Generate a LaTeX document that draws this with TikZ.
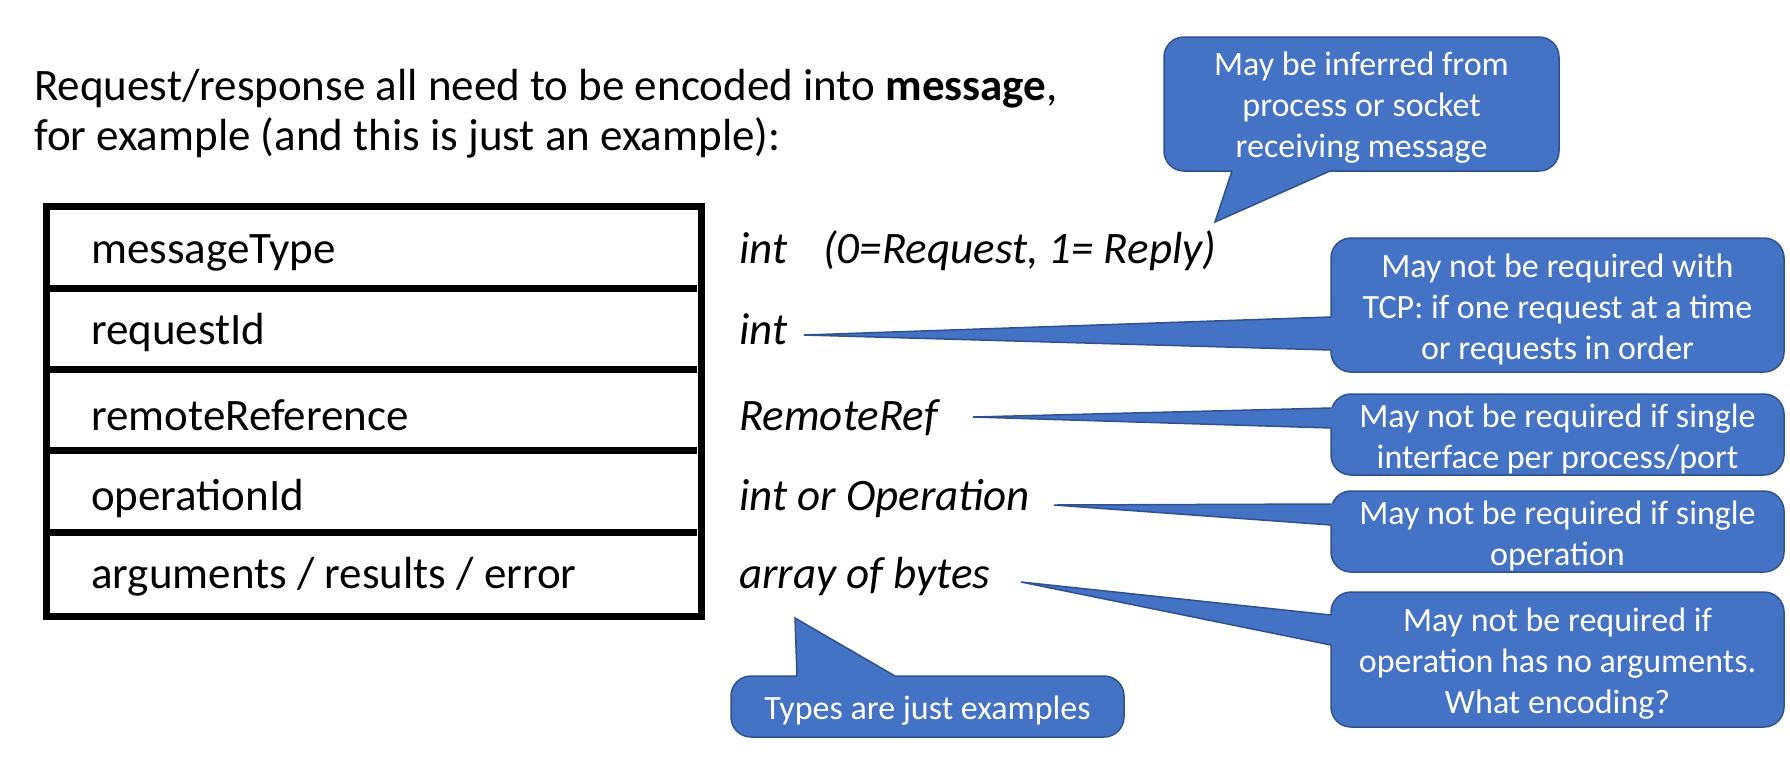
\documentclass[tikz,border=0pt]{standalone}
\usepackage{fontspec}
\setmainfont{Carlito}
\definecolor{calloutfill}{HTML}{4472C4}
\definecolor{calloutedge}{HTML}{2F528F}

\begin{document}
\begin{tikzpicture}[x=1pt,y=-1pt,
  bigtext/.style={font=\fontsize{45}{50}\selectfont, inner sep=0pt, anchor=base west},
  typetext/.style={bigtext, font=\fontsize{45}{50}\selectfont\itshape},
  callout/.style={fill=calloutfill, draw=calloutedge, line width=1.5pt,
    rounded corners=20pt, inner sep=0pt},
  callouttext/.style={text=white, font=\fontsize{34}{41}\selectfont,
    align=center, inner sep=0pt},
  pointerfill/.style={fill=calloutfill},
  pointeredge/.style={draw=calloutedge, line width=1.5pt, line join=miter},
  divider/.style={line width=7pt},
]
\useasboundingbox (0,0) rectangle (1790,780);

% heading
\node[bigtext] (title1) at (34,100) {Request/response all need to be encoded into \textbf{message},};
\node[bigtext] (title2) at (34,150) {for example (and this is just an example):};

% message layout table
\draw[line width=7.5pt] (46.25,206.5) rectangle (701.25,616.25);
\draw[divider] (50,288) -- (697,288);
\draw[divider] (50,369) -- (697,369);
\draw[divider] (50,450) -- (697,450);
\draw[divider] (50,532) -- (697,532);

\node[bigtext] (fType) at (91,263) {messageType};
\node[bigtext] (fReq)  at (91,344) {requestId};
\node[bigtext] (fRef)  at (91,430) {remoteReference};
\node[bigtext] (fOp)   at (91,510) {operationId};
\node[bigtext] (fArgs) at (91,588) {arguments / results / error};

% field types
\node[typetext] (tType) at (739,263) {int\hspace{36pt}(0=Request, 1= Reply)};
\node[typetext] (tReq)  at (739,344) {int};
\node[typetext] (tRef)  at (739,430) {RemoteRef};
\node[typetext] (tOp)   at (739,510) {int or Operation};
\node[typetext] (tArgs) at (739,588) {array of bytes};

% callout boxes
\node[callout, minimum width=395, minimum height=134] (c1) at (1361.5,104) {};
\node[callout, minimum width=453, minimum height=134] (c2) at (1557.5,305) {};
\node[callout, minimum width=453, minimum height=81]  (c3) at (1557.5,434.5) {};
\node[callout, minimum width=453, minimum height=81]  (c4) at (1557.5,531.5) {};
\node[callout, minimum width=453, minimum height=135] (c5) at (1557.5,659.5) {};
\node[callout, minimum width=393, minimum height=61]  (c6) at (927.5,706.5) {};

% pointer tips
\coordinate (p1) at (1215,222);
\coordinate (p2) at (804,335);
\coordinate (p3) at (973,417);
\coordinate (p4) at (1054,505);
\coordinate (p5) at (1021,582);
\coordinate (p6) at (795,618);

% pointer wedges: the fill reaches into the box to hide its edge
\fill[pointerfill] (1232,171) -- (p1) -- (1330,171) -- (1330,166) -- (1232,166) -- cycle;
\draw[pointeredge] (1232,171) -- (p1) -- (1330,171);

\fill[pointerfill] (1331,317) -- (p2) -- (1331,350) -- (1336,350) -- (1336,317) -- cycle;
\draw[pointeredge] (1331,317) -- (p2) -- (1331,350);

\fill[pointerfill] (1331,408) -- (p3) -- (1331,428) -- (1336,428) -- (1336,408) -- cycle;
\draw[pointeredge] (1331,408) -- (p3) -- (1331,428);

\fill[pointerfill] (1331,504) -- (p4) -- (1331,525) -- (1336,525) -- (1336,504) -- cycle;
\draw[pointeredge] (1331,504) -- (p4) -- (1331,525);

\fill[pointerfill] (1331,615) -- (p5) -- (1331,645) -- (1336,645) -- (1336,615) -- cycle;
\draw[pointeredge] (1331,615) -- (p5) -- (1331,645);

\fill[pointerfill] (797,676) -- (p6) -- (895,676) -- (895,681) -- (797,681) -- cycle;
\draw[pointeredge] (797,676) -- (p6) -- (895,676);

% callout texts
\node[callouttext] (c1t) at ([yshift=-4pt]c1.center) {May be inferred from\\process or socket\\receiving message};
\node[callouttext] (c2t) at ([yshift=-4pt]c2.center) {May not be required with\\TCP: if one request at a time\\or requests in order};
\node[callouttext] (c3t) at ([yshift=-4pt]c3.center) {May not be required if single\\interface per process/port};
\node[callouttext] (c4t) at ([yshift=-4pt]c4.center) {May not be required if single\\operation};
\node[callouttext] (c5t) at ([yshift=-4pt]c5.center) {May not be required if\\operation has no arguments.\\What encoding?};
\node[callouttext] (c6t) at ([yshift=-4pt]c6.center) {Types are just examples};
\end{tikzpicture}
\end{document}
